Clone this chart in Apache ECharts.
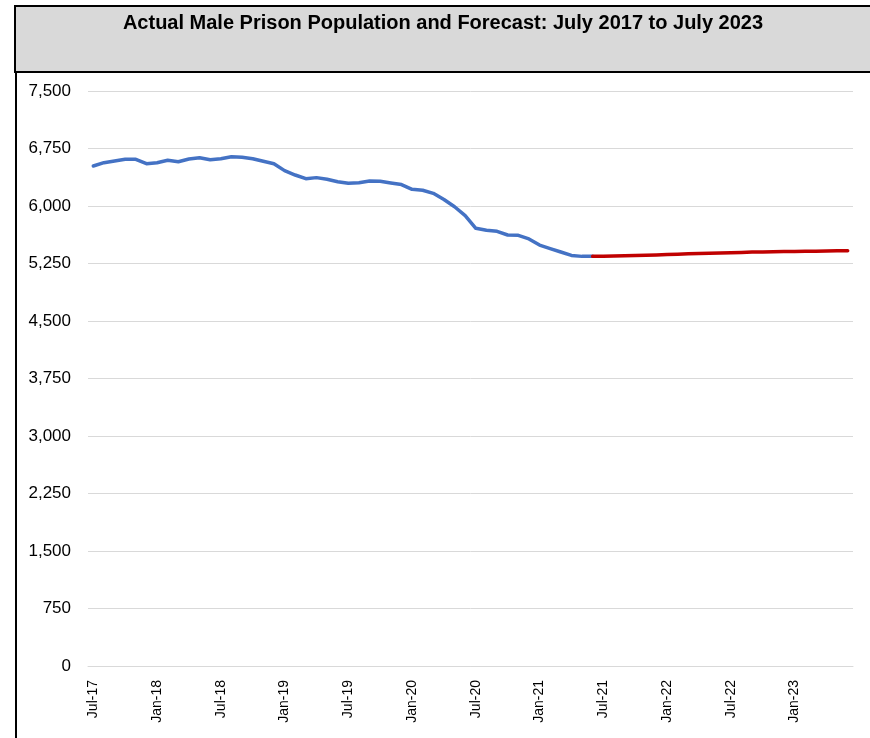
<!DOCTYPE html>
<html>
<head>
<meta charset="utf-8">
<script src="https://cdn.jsdelivr.net/npm/echarts@6/dist/echarts.min.js"></script>
<style>
  html, body { margin: 0; padding: 0; background: #fff; }
  #chart { width: 870px; height: 738px; }
</style>
</head>
<body>
<div id="chart"></div>
<script>
// monthly, Jul-17 .. Jun-23
const months = [
  'Jul-17', 'Aug-17', 'Sep-17', 'Oct-17', 'Nov-17', 'Dec-17',
  'Jan-18', 'Feb-18', 'Mar-18', 'Apr-18', 'May-18', 'Jun-18',
  'Jul-18', 'Aug-18', 'Sep-18', 'Oct-18', 'Nov-18', 'Dec-18',
  'Jan-19', 'Feb-19', 'Mar-19', 'Apr-19', 'May-19', 'Jun-19',
  'Jul-19', 'Aug-19', 'Sep-19', 'Oct-19', 'Nov-19', 'Dec-19',
  'Jan-20', 'Feb-20', 'Mar-20', 'Apr-20', 'May-20', 'Jun-20',
  'Jul-20', 'Aug-20', 'Sep-20', 'Oct-20', 'Nov-20', 'Dec-20',
  'Jan-21', 'Feb-21', 'Mar-21', 'Apr-21', 'May-21', 'Jun-21',
  'Jul-21', 'Aug-21', 'Sep-21', 'Oct-21', 'Nov-21', 'Dec-21',
  'Jan-22', 'Feb-22', 'Mar-22', 'Apr-22', 'May-22', 'Jun-22',
  'Jul-22', 'Aug-22', 'Sep-22', 'Oct-22', 'Nov-22', 'Dec-22',
  'Jan-23', 'Feb-23', 'Mar-23', 'Apr-23', 'May-23', 'Jun-23'
]

// Jul-17 .. Jun-21
const actual = [
  6522, 6565, 6587, 6609, 6609, 6552,
  6565, 6596, 6578, 6613, 6630, 6604,
  6617, 6643, 6635, 6617, 6583, 6552,
  6461, 6404, 6356, 6370, 6348, 6317,
  6296, 6304, 6326, 6322, 6300, 6280,
  6217, 6205, 6165, 6085, 5990, 5875,
  5709, 5683, 5670, 5622, 5617, 5570,
  5490, 5445, 5400, 5355, 5343, 5343
]

// Jun-21 .. Jun-23
const forecast = [
  5343, 5345, 5348, 5350, 5353, 5357,
  5362, 5366, 5372, 5376, 5380, 5385,
  5388, 5391, 5395, 5399, 5401, 5403,
  5405, 5407, 5409, 5411, 5413, 5415, 5417
]

const yMin = 0
const yMax = 7500
const yStep = 750

const chartTitle = 'Actual Male Prison Population and Forecast: July 2017 to July 2023'

const forecastStart = actual.length - 1

const actualData = months.map((m, i) => (i < actual.length ? actual[i] : null))
const forecastData = months.map((m, i) => (i >= forecastStart ? forecast[i - forecastStart] : null))

const chart = echarts.init(document.getElementById('chart'))

chart.setOption({
  backgroundColor: '#fff',
  animation: false,
  graphic: [
    {
      type: 'rect',
      z: 0,
      shape: { x: 15, y: 6, width: 880, height: 66 },
      style: { fill: '#d9d9d9', stroke: '#000', lineWidth: 2 }
    },
    {
      type: 'line',
      z: 0,
      shape: { x1: 16, y1: 72, x2: 16, y2: 760 },
      style: { stroke: '#000', lineWidth: 2 }
    },
    {
      type: 'text',
      z: 10,
      x: 443,
      y: 23,
      style: {
        text: chartTitle,
        fill: '#000',
        font: 'bold 20px "Liberation Sans", Arial, sans-serif',
        align: 'center',
        verticalAlign: 'middle'
      }
    }
  ],
  grid: {
    left: 88,
    right: 17,
    top: 91,
    bottom: 72
  },
  xAxis: {
    type: 'category',
    data: months,
    boundaryGap: true,
    axisLine: { lineStyle: { color: '#d9d9d9', width: 1 } },
    axisTick: {
      interval: 5,
      length: 5,
      lineStyle: { color: '#d9d9d9' }
    },
    axisLabel: {
      interval: 5,
      rotate: 90,
      margin: 14,
      color: '#000',
      fontSize: 14,
      fontFamily: '"Liberation Sans", Arial, sans-serif'
    },
    splitLine: { show: false }
  },
  yAxis: {
    type: 'value',
    min: yMin,
    max: yMax,
    interval: yStep,
    axisLine: { show: false },
    axisTick: { show: false },
    axisLabel: {
      margin: 17,
      color: '#000',
      fontSize: 17,
      fontFamily: '"Liberation Sans", Arial, sans-serif',
      formatter: (v) => v.toLocaleString('en-US')
    },
    splitLine: { lineStyle: { color: '#d9d9d9', width: 1 } }
  },
  series: [
    {
      name: 'Actual',
      type: 'line',
      data: actualData,
      showSymbol: false,
      symbol: 'none',
      lineStyle: { color: '#4472c4', width: 3.5, cap: 'round', join: 'round' },
      z: 3
    },
    {
      name: 'Forecast',
      type: 'line',
      data: forecastData,
      showSymbol: false,
      symbol: 'none',
      lineStyle: { color: '#c00000', width: 3.5, cap: 'round', join: 'round' },
      z: 4
    }
  ]
})
</script>
</body>
</html>
